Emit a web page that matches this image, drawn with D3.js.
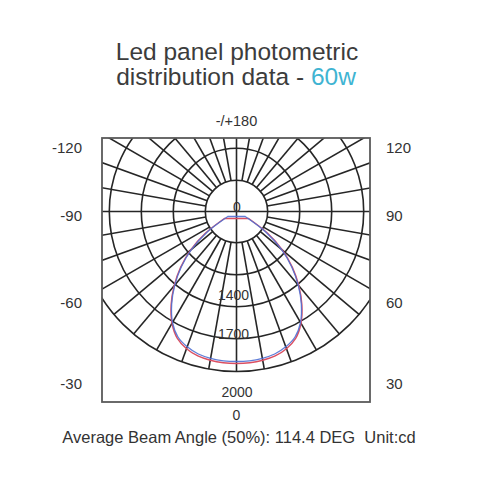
<!DOCTYPE html>
<html>
<head>
<meta charset="utf-8">
<script src="https://cdn.jsdelivr.net/npm/d3@7"></script>
<style>
  body { margin: 0; background: #fff; }
  text { font-family: "Liberation Sans", Arial, sans-serif; fill: #333; }
</style>
</head>
<body>
<svg id="chart"></svg>
<script>
// Chart data (intensity in cd, angle from nadir in degrees)
var angles = [0, 5, 10, 15, 20, 25, 30, 35, 40, 45, 50, 55, 60];
var planeC0 = [1900, 1898, 1888, 1869, 1825, 1750, 1613, 1425, 1213, 988, 750, 475, 175];
var planeC90 = [1875, 1873, 1863, 1844, 1800, 1731, 1600, 1413, 1200, 975, 731, 450, 125];
var ringValues = [390, 790, 1190, 1590, 2000];
var ringLabels = ["0", "1400", "1700", "2000"];
var leftTicks = ["-120", "-90", "-60", "-30"];
var rightTicks = ["120", "90", "60", "30"];
var tickAngles = [120, 90, 60, 30];
var titleLines = ["Led panel photometric", "distribution data - "];
var titleAccent = "60w";
var caption = "Average Beam Angle (50%): 114.4 DEG  Unit:cd";

var width = 499, height = 500;
var cx = 236.5, cy = 211.5;
var box = { x0: 102, y0: 138, x1: 370, y1: 402 };
var gridColor = "#262626", gridWidth = 1.6;

var svg = d3.select("#chart").attr("width", width).attr("height", height);

var r = d3.scaleLinear().domain([0, 2000]).range([0, 160]);

// title
var title = svg.append("text")
  .attr("text-anchor", "middle")
  .style("font-size", "24.5px")
  .style("fill", "#3c3c3c");
title.append("tspan").attr("x", 237).attr("y", 60).text(titleLines[0]);
title.append("tspan").attr("x", 236).attr("y", 85).text(titleLines[1]);
title.append("tspan").style("fill", "#3fb4d2").text(titleAccent);

// clip for grid (clip is in page coords, grid group is translated inside)
svg.append("defs").append("clipPath").attr("id", "boxclip")
  .append("rect")
  .attr("x", box.x0).attr("y", box.y0)
  .attr("width", box.x1 - box.x0).attr("height", box.y1 - box.y0);

var grid = svg.append("g")
  .attr("clip-path", "url(#boxclip)")
  .append("g")
  .attr("transform", "translate(" + cx + "," + cy + ")");

// rings
grid.selectAll("circle.ring")
  .data(ringValues)
  .enter().append("circle")
  .attr("class", "ring")
  .attr("r", d => r(d))
  .style("fill", "none")
  .style("stroke", gridColor)
  .style("stroke-width", gridWidth);

// spokes every 10 deg from first ring out to last
var spokes = d3.range(0, 360, 10);
var rad = d => d * Math.PI / 180;
grid.selectAll("line.spoke")
  .data(spokes)
  .enter().append("line")
  .attr("class", "spoke")
  .attr("x1", d => r(ringValues[0]) * Math.sin(rad(d)))
  .attr("y1", d => r(ringValues[0]) * Math.cos(rad(d)))
  .attr("x2", d => r(2000) * Math.sin(rad(d)))
  .attr("y2", d => r(2000) * Math.cos(rad(d)))
  .style("stroke", gridColor)
  .style("stroke-width", gridWidth);

// cross through the centre
grid.append("line")
  .attr("x1", -r(ringValues[0])).attr("x2", r(ringValues[0]))
  .attr("y1", 0).attr("y2", 0)
  .style("stroke", gridColor).style("stroke-width", gridWidth);
grid.append("line")
  .attr("y1", -r(ringValues[0])).attr("y2", r(ringValues[0]))
  .attr("x1", 0).attr("x2", 0)
  .style("stroke", gridColor).style("stroke-width", gridWidth);

// frame
svg.append("rect")
  .attr("x", box.x0).attr("y", box.y0)
  .attr("width", box.x1 - box.x0).attr("height", box.y1 - box.y0)
  .style("fill", "none")
  .style("stroke", "#5a5a5a")
  .style("stroke-width", 1.8);

// distribution curves
function curvePoints(vals) {
  var pts = [];
  for (var i = angles.length - 1; i > 0; i--) pts.push([Math.PI + rad(angles[i]), vals[i]]);
  for (var j = 0; j < angles.length; j++) pts.push([Math.PI - rad(angles[j]), vals[j]]);
  return pts;
}
var radial = d3.lineRadial()
  .angle(d => d[0])
  .radius(d => r(d[1]))
  .curve(d3.curveCatmullRom);

var curves = svg.append("g").attr("transform", "translate(" + cx + "," + cy + ")");
curves.append("path")
  .attr("d", radial(curvePoints(planeC0)) + "Z")
  .style("fill", "none")
  .style("stroke", "#db4f62")
  .style("stroke-width", 1.4);
curves.append("path")
  .attr("d", radial(curvePoints(planeC90)) + "Z")
  .style("fill", "none")
  .style("stroke", "#4f70d4")
  .style("stroke-width", 1.3)
  .style("opacity", 0.9);

// intensity labels along the nadir axis
var labelPos = { "0": -1, "1400": 87, "1700": 126, "2000": 184 };
svg.selectAll("text.ringlab")
  .data(ringLabels)
  .enter().append("text")
  .attr("class", "ringlab")
  .attr("x", d => (d === "1400" || d === "1700") ? cx - 3 : cx + 0.5)
  .attr("y", d => cy + labelPos[d] + 1)
  .attr("text-anchor", "middle")
  .style("font-size", "14px")
  .text(d => d);

// side angle labels
var sideY = d3.scaleLinear().domain(tickAngles).range([153, 221, 308, 389]);
svg.selectAll("text.left")
  .data(leftTicks)
  .enter().append("text")
  .attr("x", 82)
  .attr("y", (d, i) => sideY(tickAngles[i]))
  .attr("text-anchor", "end")
  .style("font-size", "15px")
  .text(d => d);
svg.selectAll("text.right")
  .data(rightTicks)
  .enter().append("text")
  .attr("x", 386)
  .attr("y", (d, i) => sideY(tickAngles[i]))
  .attr("text-anchor", "start")
  .style("font-size", "15px")
  .text(d => d);

svg.append("text")
  .attr("x", cx).attr("y", 126)
  .attr("text-anchor", "middle")
  .style("font-size", "14.5px")
  .text("-/+180");
svg.append("text")
  .attr("x", cx).attr("y", 420)
  .attr("text-anchor", "middle")
  .style("font-size", "14px")
  .text("0");

svg.append("text")
  .attr("x", 239).attr("y", 443)
  .attr("text-anchor", "middle")
  .style("font-size", "16.5px")
  .style("white-space", "pre")
  .text(caption);
</script>
</body>
</html>
